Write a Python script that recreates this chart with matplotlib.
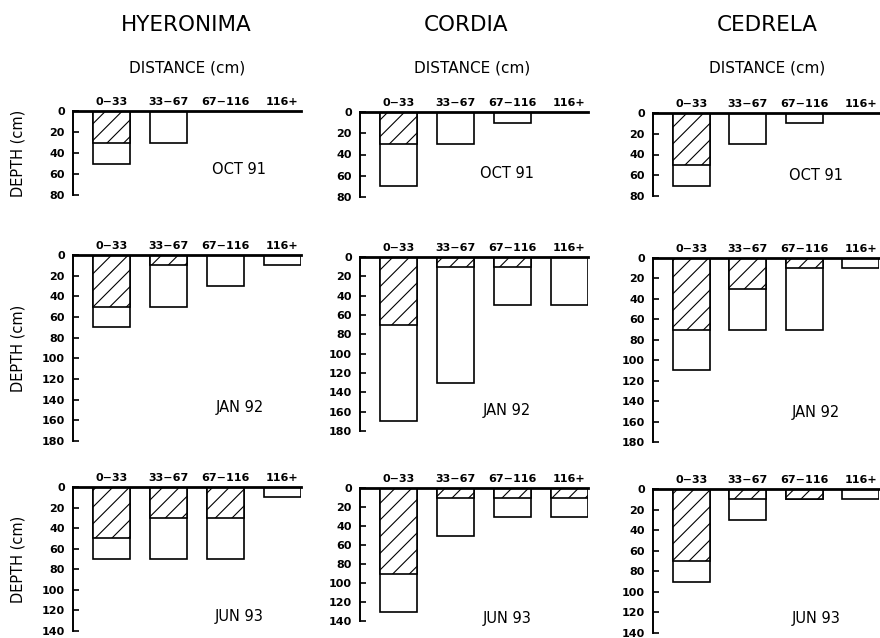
import matplotlib
matplotlib.use("Agg")
import matplotlib.pyplot as plt
import numpy as np

plt.rcParams['font.family'] = ['DejaVu Sans']
plt.rcParams['hatch.linewidth'] = 0.8

# ------------------- Data -------------------
species = ["HYERONIMA", "CORDIA", "CEDRELA"]
dates = ["OCT 91", "JAN 92", "JUN 93"]
distance = ["0\u221233", "33\u221267", "67\u2212116", "116+"]
depth_max = [80, 180, 140]

# total root depth (open bars), cm; rows = dates, cols = distance classes
total_hyeronima = [[50, 30, 0, 0], [70, 50, 30, 10], [70, 70, 70, 10]]
total_cordia = [[70, 30, 10, 0], [170, 130, 50, 50], [130, 50, 30, 30]]
total_cedrela = [[70, 30, 10, 0], [110, 70, 70, 10], [90, 30, 10, 10]]

# hatched part of the bar, cm
hatch_hyeronima = [[30, 0, 0, 0], [50, 10, 0, 0], [50, 30, 30, 0]]
hatch_cordia = [[30, 0, 0, 0], [70, 10, 10, 0], [90, 10, 10, 10]]
hatch_cedrela = [[50, 0, 0, 0], [70, 30, 10, 0], [70, 10, 10, 0]]

totals = [total_hyeronima, total_cordia, total_cedrela]
hatched = [hatch_hyeronima, hatch_cordia, hatch_cedrela]

# ------------------- Layout (pixels) -------------------
W, H = 880, 638
# left, top(0 line), right, bottom(max) for each [row][col]
boxes = [
    [(73, 111, 301, 195), (360, 112, 588, 197), (653, 113, 879, 196)],
    [(73, 255, 301, 441), (360, 257, 588, 431), (653, 258, 879, 442)],
    [(73, 487, 301, 631), (360, 488, 588, 621), (653, 489, 879, 633)],
]
# date label positions in axes fraction
date_pos = [
    [(0.73, 0.30), (0.645, 0.28), (0.72, 0.25)],
    [(0.73, 0.18), (0.645, 0.12), (0.72, 0.16)],
    [(0.73, 0.10), (0.645, 0.02), (0.72, 0.10)],
]
title_x = [186, 466, 767]
dist_x = [187, 472, 767]

fig = plt.figure(figsize=(W / 100, H / 100), dpi=100)

x = np.arange(len(distance))
bw = 0.65

for r in range(3):
    for c in range(3):
        l, t, rt, b = boxes[r][c]
        ax = fig.add_axes([l / W, 1 - b / H, (rt - l) / W, (b - t) / H])
        ax.bar(x, totals[c][r], width=bw, color="white", edgecolor="black",
               linewidth=1.2, zorder=2)
        hv = np.array(hatched[c][r])
        ax.bar(x[hv > 0], hv[hv > 0], width=bw, color="white", edgecolor="black",
               linewidth=1.2, hatch="//", zorder=3)
        ax.set_ylim(depth_max[r], 0)
        ax.set_xlim(-bw / 2 - 0.35, 3 + bw / 2)
        ax.set_yticks(np.arange(0, depth_max[r] + 1, 20))
        ax.set_xticks(x)
        ax.set_xticklabels(distance)
        ax.xaxis.tick_top()
        ax.tick_params(axis="x", length=0, pad=3, labelsize=8)
        ax.tick_params(axis="y", direction="in", length=4, width=1.2, pad=6, labelsize=8)
        for lab in ax.get_xticklabels() + ax.get_yticklabels():
            lab.set_fontweight("bold")
        ax.spines["right"].set_visible(False)
        ax.spines["bottom"].set_visible(False)
        ax.spines["top"].set_linewidth(2)
        ax.spines["left"].set_linewidth(1.4)
        ax.spines["top"].set_zorder(4)
        ax.patch.set_alpha(0)
        dx, dy = date_pos[r][c]
        ax.text(dx, dy, dates[r], transform=ax.transAxes, ha="center", va="center",
                fontsize=10.5)
        if c == 0:
            fig.text(18 / W, 1 - ((t + b) / 2) / H, "DEPTH (cm)", rotation=90,
                     ha="center", va="center", fontsize=10.5)

for c in range(3):
    fig.text(title_x[c] / W, 1 - 25 / H, species[c], ha="center", va="center",
             fontsize=15.5)
    fig.text(dist_x[c] / W, 1 - 68 / H, "DISTANCE (cm)", ha="center", va="center",
             fontsize=11)

fig.savefig("out.png", dpi=100)
